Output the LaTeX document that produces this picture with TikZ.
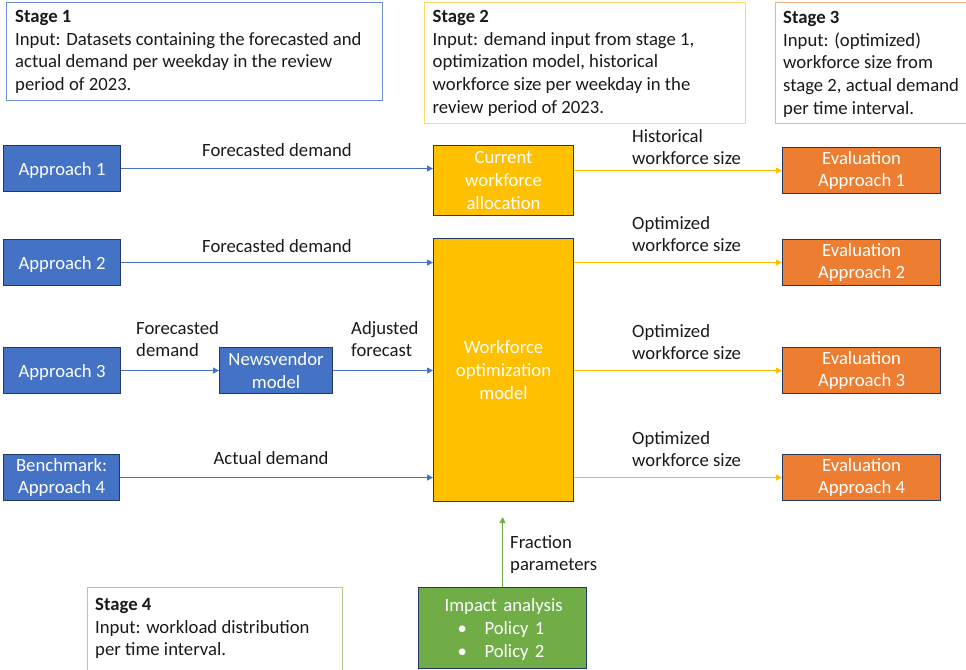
\documentclass[tikz,border=0pt]{standalone}
\usepackage{fontspec}
\setmainfont{Carlito}
\usetikzlibrary{arrows.meta}

\definecolor{accBlue}{HTML}{4472C4}
\definecolor{edgeNavy}{HTML}{22386A}
\definecolor{accGold}{HTML}{FFC000}
\definecolor{accOrange}{HTML}{ED7D31}
\definecolor{accGreen}{HTML}{70AD47}
\definecolor{frameBlue}{HTML}{6E8ED3}
\definecolor{frameGold}{HTML}{FFD966}
\definecolor{frameOrange}{HTML}{F4B183}
\definecolor{frameGreen}{HTML}{A9D18E}
\definecolor{inkText}{HTML}{1A1A1A}

\begin{document}
\begin{tikzpicture}[x=1pt,y=-1pt,
  font=\fontsize{18.7}{22.7}\selectfont,
  box/.style={draw=edgeNavy, line width=1.1pt, text=white, align=center,
    inner sep=0pt, anchor=north west,
    execute at begin node={\rule{0pt}{16pt}}},
  bluebox/.style={box, fill=accBlue},
  goldbox/.style={box, fill=accGold},
  orangebox/.style={box, fill=accOrange},
  greenbox/.style={box, fill=accGreen},
  stageframe/.style={line width=1pt, fill=white, inner sep=0pt, anchor=north west},
  stagetext/.style={text=inkText, align=left, inner sep=0pt, anchor=north west},
  lbl/.style={text=inkText, inner sep=0pt},
  lbl2/.style={text=inkText, align=left, inner sep=0pt, anchor=north west},
  flow/.style={line width=0.9pt, -{Triangle[length=6pt,width=6pt]}},
  bflow/.style={flow, draw=accBlue},
  yflow/.style={flow, draw=accGold},
  gflow/.style={flow, draw=accGreen},
]
\useasboundingbox (0,0) rectangle (966,669);

% stage description frames
\node[stageframe, draw=frameBlue, minimum width=376pt, minimum height=98pt] (s1) at (6,2) {};
\node[stagetext] (s1t) at (15,10) {\textbf{Stage 1}\\Input: Datasets containing the forecasted and\\actual demand per weekday in the review\\period of 2023.};

\node[stageframe, draw=frameGold, minimum width=321pt, minimum height=121pt] (s2) at (424,2) {};
\node[stagetext] (s2t) at (432.5,10) {\textbf{Stage 2}\\Input: demand input from stage 1,\\optimization model, historical\\workforce size per weekday in the\\review period of 2023.};

\node[stageframe, draw=frameOrange, minimum width=194pt, minimum height=121pt] (s3) at (775,2) {};
\node[stagetext] (s3t) at (783,11) {\textbf{Stage 3}\\Input: (optimized)\\workforce size from\\stage 2, actual demand\\per time interval.};

\node[stageframe, draw=frameGreen, minimum width=255pt, minimum height=90pt] (s4) at (87,587) {};
\node[stagetext] (s4t) at (95,598) {\textbf{Stage 4}\\Input: workload distribution\\per time interval.};

% demand sources
\node[bluebox, minimum width=117pt, minimum height=46pt] (a1) at (3,145) {Approach 1};
\node[bluebox, minimum width=117pt, minimum height=46pt] (a2) at (3,239) {Approach 2};
\node[bluebox, minimum width=117pt, minimum height=46pt] (a3) at (3,347) {Approach 3};
\node[bluebox, minimum width=116pt, minimum height=46pt] (a4) at (3,454) {Benchmark:\\Approach 4};
\node[bluebox, minimum width=113pt, minimum height=46pt] (nv) at (219,347) {Newsvendor\\model};

% workforce models
\node[goldbox, minimum width=140pt, minimum height=70pt] (cur) at (433,145) {Current\\workforce\\allocation};
\node[goldbox, minimum width=140pt, minimum height=263pt] (wom) at (433,238) {Workforce\\optimization\\model};

% evaluations
\node[orangebox, minimum width=158pt, minimum height=46pt] (ev1) at (782,147) {Evaluation\\Approach 1};
\node[orangebox, minimum width=158pt, minimum height=46pt] (ev2) at (782,239) {Evaluation\\Approach 2};
\node[orangebox, minimum width=158pt, minimum height=46pt] (ev3) at (782,347) {Evaluation\\Approach 3};
\node[orangebox, minimum width=158pt, minimum height=46pt] (ev4) at (782,454) {Evaluation\\Approach 4};

% impact analysis
\node[greenbox, minimum width=168pt, minimum height=81pt, text width=168pt, align=left] (imp) at (418,587)
  {\hspace*{26pt}Impact analysis\\\hspace*{39pt}\makebox[27pt][l]{\textbullet}Policy 1\\\hspace*{39pt}\makebox[27pt][l]{\textbullet}Policy 2};

% connectors
\draw[bflow] (a1.east) -- (a1.east -| cur.west);
\draw[bflow] (a2.east) -- (a2.east -| wom.west);
\draw[bflow] (a3.east) -- (nv.west);
\draw[bflow] (nv.east) -- (nv.east -| wom.west);
\draw[bflow] (a4.east) -- (a4.east -| wom.west);

\draw[yflow] (cur.east |- ev1.west) -- (ev1.west);
\draw[yflow] (wom.east |- ev2.west) -- (ev2.west);
\draw[yflow] (wom.east |- ev3.west) -- (ev3.west);
\draw[yflow] (wom.east |- ev4.west) -- (ev4.west);

\draw[gflow, shorten >=15pt] (imp.north) -- (imp.north |- wom.south);

% connector labels
\node[lbl] (l1) at (277,150) {Forecasted demand};
\node[lbl] (l2) at (277,246) {Forecasted demand};
\node[lbl2] (l3) at (136,321) {Forecasted\\demand};
\node[lbl2] (l4) at (351,321) {Adjusted\\forecast};
\node[lbl] (l5) at (271,458) {Actual demand};
\node[lbl2] (l6) at (632,129) {Historical\\workforce size};
\node[lbl2] (l7) at (632,216) {Optimized\\workforce size};
\node[lbl2] (l8) at (632,324) {Optimized\\workforce size};
\node[lbl2] (l9) at (632,431) {Optimized\\workforce size};
\node[lbl2] (l10) at (510,535) {Fraction\\parameters};
\end{tikzpicture}
\end{document}
